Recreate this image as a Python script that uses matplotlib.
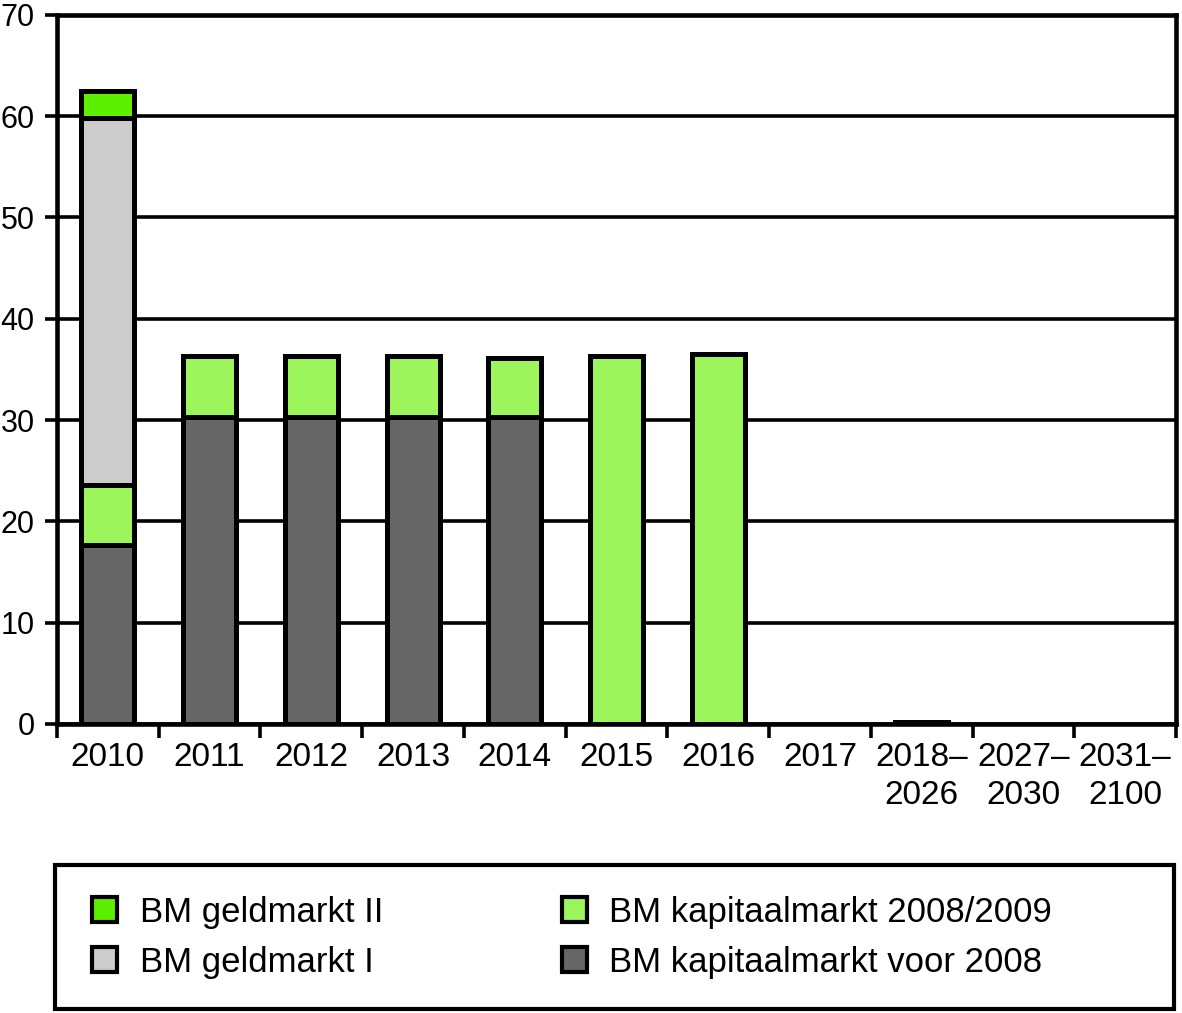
import matplotlib.pyplot as plt
from matplotlib.patches import Rectangle
import numpy as np

# categories and series (bn euro), stacked bottom -> top
categories = ['2010', '2011', '2012', '2013', '2014', '2015', '2016', '2017',
              '2018–\n2026', '2027–\n2030', '2031–\n2100']
kap_voor_2008 = [17.7, 30.3, 30.3, 30.3, 30.3, 0, 0, 0, 0.15, 0, 0]
kap_2008_2009 = [5.9, 6.0, 6.0, 6.0, 5.8, 36.3, 36.5, 0, 0, 0, 0]
geldmarkt_1 = [36.2, 0, 0, 0, 0, 0, 0, 0, 0, 0, 0]
geldmarkt_2 = [2.7, 0, 0, 0, 0, 0, 0, 0, 0, 0, 0]

plt.rcParams['font.family'] = ['Liberation Sans', 'DejaVu Sans']

fig = plt.figure(figsize=(11.82, 10.13), dpi=100)
ax = fig.add_axes([0.0482, 0.2853, 0.9468, 0.7000])

x = np.arange(len(categories))
w = 0.52
edge = dict(edgecolor='black', linewidth=3.6, zorder=3)

bottom = np.zeros(len(categories))
series = [
    (kap_voor_2008, '#666666', 'BM kapitaalmarkt voor 2008'),
    (kap_2008_2009, '#9cf55a', 'BM kapitaalmarkt 2008/2009'),
    (geldmarkt_1, '#cccccc', 'BM geldmarkt I'),
    (geldmarkt_2, '#5cf000', 'BM geldmarkt II'),
]
handles = {}
for vals, col, lab in series:
    vals = np.array(vals, dtype=float)
    mask = vals > 0
    b = ax.bar(x[mask], vals[mask], w, bottom=bottom[mask], color=col, label=lab, **edge)
    handles[lab] = b
    bottom += vals

ax.set_xlim(-0.5, len(categories) - 0.5)
ax.set_ylim(0, 70)
ax.set_yticks(range(0, 71, 10))
ax.yaxis.grid(True, color='black', linewidth=2.6)
ax.set_axisbelow(True)

ax.set_xticks(x)
ax.set_xticklabels(categories, fontsize=24, linespacing=1.3)
ax.set_xticks(np.arange(-0.5, len(categories)), minor=True)
ax.tick_params(axis='x', which='major', length=0, pad=13)
ax.tick_params(axis='x', which='minor', length=10, width=2.6, direction='out')
ax.tick_params(axis='y', length=9, width=2.6, direction='out', labelsize=22, pad=7)

for s in ax.spines.values():
    s.set_linewidth(3.3)

# legend box
fig.patches.append(Rectangle((0.0465, 0.004), 0.9467, 0.1422, transform=fig.transFigure,
                             facecolor='none', edgecolor='black', linewidth=3))

order = ['BM geldmarkt II', 'BM geldmarkt I', 'BM kapitaalmarkt 2008/2009', 'BM kapitaalmarkt voor 2008']
leg = fig.legend([handles[k] for k in order], order, ncol=2,
                 loc='upper left', bbox_to_anchor=(0.0778, 0.1155),
                 fontsize=25, frameon=False, borderaxespad=0, borderpad=0,
                 handlelength=0.72, handleheight=0.72,
                 handletextpad=0.65, labelspacing=0.49, columnspacing=5.15)
for h in leg.legend_handles:
    h.set_linewidth(3)

fig.savefig('out.png', dpi=100)
